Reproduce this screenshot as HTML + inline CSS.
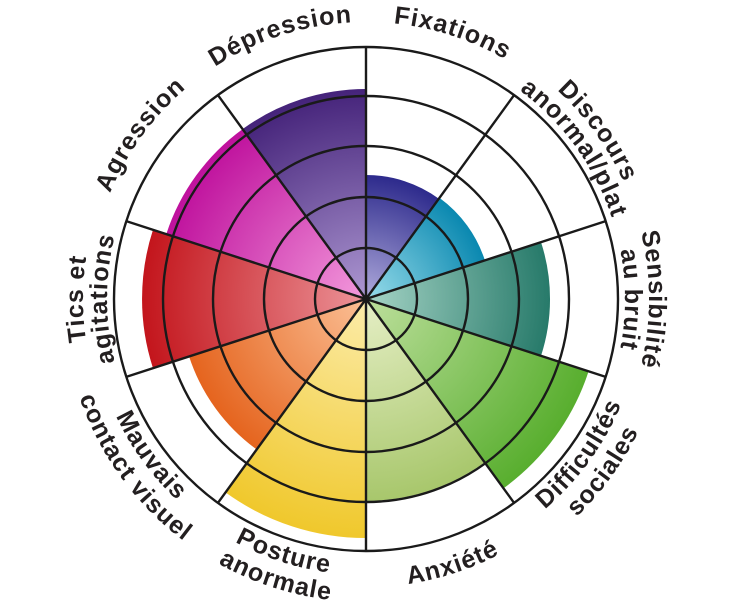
<!DOCTYPE html>
<html><head><meta charset="utf-8"><style>
html,body{margin:0;padding:0;background:#fff;}
svg{display:block;}
text{font-family:"Liberation Sans",sans-serif;font-weight:bold;font-size:25px;fill:#231f20;letter-spacing:1px;}
</style></head><body>
<svg width="732" height="600" viewBox="0 0 732 600" xmlns="http://www.w3.org/2000/svg">
<defs>
<radialGradient id="g0" gradientUnits="userSpaceOnUse" cx="366" cy="299" r="124"><stop offset="0" stop-color="#b0abdc"/><stop offset="1" stop-color="#2d2a8c"/></radialGradient>
<radialGradient id="g1" gradientUnits="userSpaceOnUse" cx="366" cy="299" r="125"><stop offset="0" stop-color="#98dcea"/><stop offset="1" stop-color="#0a88b0"/></radialGradient>
<radialGradient id="g2" gradientUnits="userSpaceOnUse" cx="366" cy="299" r="184"><stop offset="0" stop-color="#a6d4c6"/><stop offset="1" stop-color="#277a6a"/></radialGradient>
<radialGradient id="g3" gradientUnits="userSpaceOnUse" cx="366" cy="299" r="234"><stop offset="0" stop-color="#bddf9c"/><stop offset="1" stop-color="#58ae2e"/></radialGradient>
<radialGradient id="g4" gradientUnits="userSpaceOnUse" cx="366" cy="299" r="202"><stop offset="0" stop-color="#e6efc6"/><stop offset="1" stop-color="#a8c76c"/></radialGradient>
<radialGradient id="g5" gradientUnits="userSpaceOnUse" cx="366" cy="299" r="239"><stop offset="0" stop-color="#fcecaa"/><stop offset="1" stop-color="#f0c82c"/></radialGradient>
<radialGradient id="g6" gradientUnits="userSpaceOnUse" cx="366" cy="299" r="186"><stop offset="0" stop-color="#fbc096"/><stop offset="1" stop-color="#e5641e"/></radialGradient>
<radialGradient id="g7" gradientUnits="userSpaceOnUse" cx="366" cy="299" r="224"><stop offset="0" stop-color="#ec9499"/><stop offset="1" stop-color="#c3151c"/></radialGradient>
<radialGradient id="g8" gradientUnits="userSpaceOnUse" cx="366" cy="299" r="210"><stop offset="0" stop-color="#f39adc"/><stop offset="1" stop-color="#bf119d"/></radialGradient>
<radialGradient id="g9" gradientUnits="userSpaceOnUse" cx="366" cy="299" r="210"><stop offset="0" stop-color="#ad98d2"/><stop offset="1" stop-color="#45237a"/></radialGradient>

<path id="t277" d="M366,576 A277,277 0 1 1 366,22 A277,277 0 1 1 366,576" fill="none"/>
<path id="t283" d="M366,582 A283,283 0 1 1 366,16 A283,283 0 1 1 366,582" fill="none"/>
<path id="t259" d="M366,558 A259,259 0 1 1 366,40 A259,259 0 1 1 366,558" fill="none"/>
<path id="b276" d="M366,23 A276,276 0 1 0 366,575 A276,276 0 1 0 366,23" fill="none"/>
<path id="b303" d="M366,-4 A303,303 0 1 0 366,602 A303,303 0 1 0 366,-4" fill="none"/>
<path id="b288" d="M366,11 A288,288 0 1 0 366,587 A288,288 0 1 0 366,11" fill="none"/>
</defs>

<path d="M366,299 L366,175 A124,124 0 0 1 438.9,198.7 Z" fill="url(#g0)"/>
<path d="M366,299 L439.5,197.9 A125,125 0 0 1 484.9,260.4 Z" fill="url(#g1)"/>
<path d="M366,299 L541,242.1 A184,184 0 0 1 541,355.9 Z" fill="url(#g2)"/>
<path d="M366,299 L588.6,371.3 A234,234 0 0 1 503.5,488.3 Z" fill="url(#g3)"/>
<path d="M366,299 L484.7,462.4 A202,202 0 0 1 366,501 Z" fill="url(#g4)"/>
<path d="M366,299 L366,538 A239,239 0 0 1 225.5,492.4 Z" fill="url(#g5)"/>
<path d="M366,299 L256.7,449.5 A186,186 0 0 1 189.1,356.5 Z" fill="url(#g6)"/>
<path d="M366,299 L153,368.2 A224,224 0 0 1 153,229.8 Z" fill="url(#g7)"/>
<path d="M366,299 L166.3,234.1 A210,210 0 0 1 242.6,129.1 Z" fill="url(#g8)"/>
<path d="M366,299 L242.6,129.1 A210,210 0 0 1 366,89 Z" fill="url(#g9)"/>

<g fill="none" stroke="#1a1a1a" stroke-width="2.4">
<circle cx="366" cy="299" r="51"/>
<circle cx="366" cy="299" r="102"/>
<circle cx="366" cy="299" r="153"/>
<circle cx="366" cy="299" r="203"/>
<circle cx="366" cy="299" r="252"/>
<path d="M366,299 L366,47 M366,299 L514.1,95.1 M366,299 L605.7,221.1 M366,299 L605.7,376.9 M366,299 L514.1,502.9 M366,299 L366,551 M366,299 L217.9,502.9 M366,299 L126.3,376.9 M366,299 L126.3,221.1 M366,299 L217.9,95.1"/>
</g>

<text text-anchor="middle"><textPath href="#t277" startOffset="956.9">Fixations</textPath></text>
<text text-anchor="middle"><textPath href="#t277" startOffset="783.2">Dépression</textPath></text>
<text text-anchor="middle"><textPath href="#t277" startOffset="609.1">Agression</textPath></text>
<text text-anchor="middle"><textPath href="#t283" startOffset="1155.8">Discours</textPath></text>
<text text-anchor="middle"><textPath href="#t259" startOffset="1057.8">anormal/plat</textPath></text>
<text text-anchor="middle"><textPath href="#t283" startOffset="1333.6">Sensibilité</textPath></text>
<text text-anchor="middle"><textPath href="#t259" startOffset="1220.5">au bruit</textPath></text>
<text text-anchor="middle"><textPath href="#t283" startOffset="444.5">Tics et</textPath></text>
<text text-anchor="middle"><textPath href="#t259" startOffset="406.8">agitations</textPath></text>

<text text-anchor="middle"><textPath href="#b276" startOffset="1127.2">Difficultés</textPath></text>
<text text-anchor="middle"><textPath href="#b303" startOffset="1237.5">sociales</textPath></text>
<text text-anchor="middle"><textPath href="#b288" startOffset="995.3">Anxiété</textPath></text>
<text text-anchor="middle"><textPath href="#b276" startOffset="780.4">Posture</textPath></text>
<text text-anchor="middle"><textPath href="#b303" startOffset="856.7">anormale</textPath></text>
<text text-anchor="middle"><textPath href="#b276" startOffset="607.0">Mauvais</textPath></text>
<text text-anchor="middle"><textPath href="#b303" startOffset="666.3">contact visuel</textPath></text>
</svg>
</body></html>
